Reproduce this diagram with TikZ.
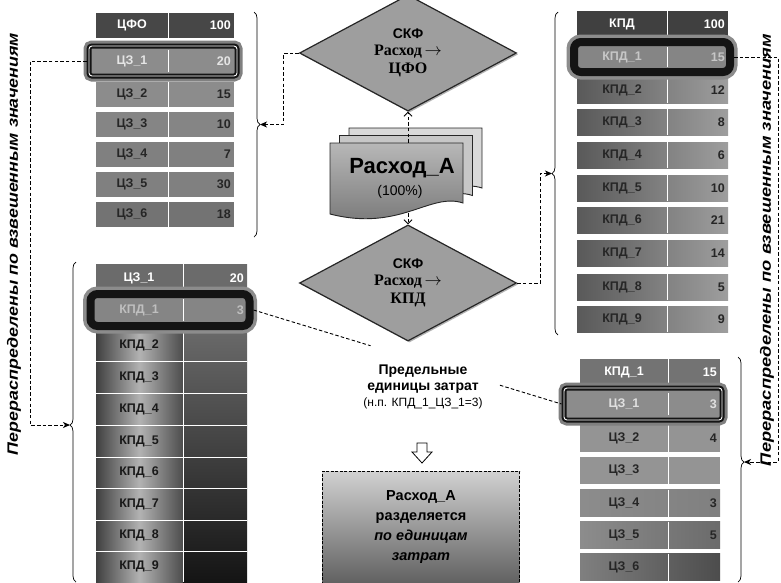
\documentclass[tikz,border=0pt]{standalone}
\usepackage{fontspec}
\setmainfont{Liberation Sans}
\newfontfamily\serifb{Liberation Serif}
\usetikzlibrary{shapes.geometric,arrows.meta,decorations.pathreplacing,calc,shadows}
\tikzset{
 rowtxt/.style={font=\bfseries\fontsize{12.5}{13}\selectfont, inner sep=0pt},
 dashline/.style={draw=black, line width=0.9pt, dash pattern=on 3.5pt off 2.2pt},
 bracedec/.style={draw=black, line width=0.7pt, decorate, decoration={brace, amplitude=6pt, aspect=#1}},
 bracedec/.default=0.5,
 intip/.style={-{Stealth[length=7pt,width=6pt,inset=2pt]}},
 vtip/.style={-{Straight Barb[length=4pt,width=8pt]}},
 diam/.style={diamond, minimum width=217pt, minimum height=98pt, inner sep=0pt, align=center, fill=black!38, draw=black!85, line width=1.2pt, drop shadow={shadow xshift=1.5pt, shadow yshift=-1.5pt, fill=black!60}},
 hlsharp/.style={rectangle, rounded corners=3pt, fill=black!45, draw=black!92, line width=5pt, preaction={draw=black!50, line width=11pt}, postaction={draw=white, line width=0.9pt}, inner sep=0pt},
 hlblur/.style={rectangle, rounded corners=7pt, fill=black!48, draw=black!92, line width=8pt, preaction={draw=black!45, line width=15pt}, inner sep=0pt},
 sidetxt/.style={rotate=90, font=\bfseries\itshape\fontsize{15}{15}\selectfont, inner sep=0pt},
 pagebox/.style={draw=black!85, line width=0.9pt},
 resbox/.style={draw=black, dash pattern=on 3pt off 1.5pt, line width=0.8pt, minimum width=197pt, minimum height=112pt, inner sep=0pt, align=center, font=\bfseries\fontsize{14.5}{20}\selectfont, top color=black!18, bottom color=black!62},
}
\newcommand\mytrow[9]{%
 \path[#8] (#2,#5-\rh) rectangle (#4,#5+\rh);
 \draw[white,line width=0.8pt] (#3,#5-\rh) -- (#3,#5+\rh);
 \node[rowtxt,text=#9] (#1l) at ({(#2+#3)/2},#5) {#6};
 \node[rowtxt,text=#9,anchor=east] (#1r) at ({#4-3},#5) {#7};
}
\newcommand\mypage[3]{%
 \path[pagebox,#3] (330+#1,143+#2) -- (463+#1,143+#2) -- (463+#1,203+#2) .. controls (430+#1,192+#2) and (400+#1,232+#2) .. (330+#1,214+#2) -- cycle;
}
\begin{document}
\begin{tikzpicture}[x=1pt,y=-1pt]
\useasboundingbox (0,0) rectangle (781,582);
\fill[white] (0,0) rectangle (781,582);

% ---------- top-left table
\def\rh{12.5}
\mytrow{tla}{96}{168}{234}{25}{ЦФО}{100}{fill=black!72}{white}
\mytrow{tlc}{96}{168}{234}{94}{ЦЗ\_2}{15}{fill=black!45}{black!85}
\mytrow{tld}{96}{168}{234}{124}{ЦЗ\_3}{10}{fill=black!48}{black!85}
\mytrow{tle}{96}{168}{234}{154}{ЦЗ\_4}{7}{fill=black!50}{black!85}
\mytrow{tlf}{96}{168}{234}{184}{ЦЗ\_5}{30}{fill=black!50}{black!85}
\mytrow{tlg}{96}{168}{234}{214}{ЦЗ\_6}{18}{fill=black!55}{black!85}
\node[hlsharp, minimum width=148pt, minimum height=30pt] (hlTL) at (163,61) {};
\draw[white,line width=0.8pt] (168,50) -- (168,72);
\node[rowtxt,text=black!10] (tlbl) at (132,61) {ЦЗ\_1};
\node[rowtxt,text=black!10,anchor=east] (tlbr) at (231,61) {20};

% ---------- top-right table
\def\rh{13}
\mytrow{tra}{577}{667}{728}{24}{КПД}{100}{fill=black!75}{white}
\mytrow{trc}{577}{667}{728}{90}{КПД\_2}{12}{left color=black!65,right color=black!38}{black!85}
\mytrow{trd}{577}{667}{728}{122}{КПД\_3}{8}{left color=black!65,right color=black!38}{black!85}
\mytrow{tre}{577}{667}{728}{155}{КПД\_4}{6}{left color=black!65,right color=black!38}{black!85}
\mytrow{trf}{577}{667}{728}{188}{КПД\_5}{10}{left color=black!65,right color=black!38}{black!85}
\mytrow{trg}{577}{667}{728}{220}{КПД\_6}{21}{left color=black!65,right color=black!38}{black!85}
\mytrow{trh}{577}{667}{728}{253}{КПД\_7}{14}{left color=black!65,right color=black!38}{black!85}
\mytrow{tri}{577}{667}{728}{287}{КПД\_8}{5}{left color=black!65,right color=black!38}{black!85}
\mytrow{trj}{577}{667}{728}{319}{КПД\_9}{9}{left color=black!65,right color=black!38}{black!85}
\node[hlblur, minimum width=156pt, minimum height=30pt] (hlTR) at (652,57) {};
\draw[white,line width=0.8pt] (667,47) -- (667,67);
\node[rowtxt,text=black!22] (trbl) at (622,57) {КПД\_1};
\node[rowtxt,text=black!22,anchor=east] (trbr) at (725,57) {15};

% ---------- bottom-left table
\shade[left color=black!75, right color=black!70, middle color=black!30] (96,264) rectangle (183,582);
\shade[top color=black!50, bottom color=black!92] (183,264) rectangle (247,582);
\fill[black!58] (96,264) rectangle (247,292);
\foreach \yy in {294,327,361,393,425,457,488,520,551} {\draw[white,line width=0.8pt] (96,\yy) -- (247,\yy);}
\draw[white,line width=0.8pt] (183,264) -- (183,582);
\node[rowtxt,text=white] (bla) at (139,278) {ЦЗ\_1};
\node[rowtxt,text=white,anchor=east] (blar) at (244,278) {20};
\node[hlblur, minimum width=159pt, minimum height=32pt] (hlBL) at (170,310) {};
\draw[white,line width=0.8pt] (183,299) -- (183,321);
\node[rowtxt,text=black!25] (blb) at (139,310) {КПД\_1};
\node[rowtxt,text=black!25,anchor=east] (blbr) at (244,310) {3};
\foreach \nm/\yy in {2/345,3/377,4/409,5/441,6/472,7/504,8/535,9/566} {\node[rowtxt,text=black!90] (blr\nm) at (139,\yy) {КПД\_\nm};}

% ---------- bottom-right table
\def\rh{13.5}
\mytrow{bra}{580}{668}{720}{372}{КПД\_1}{15}{fill=black!55}{white}
\mytrow{brc}{580}{668}{720}{438}{ЦЗ\_2}{4}{fill=black!42}{black!85}
\mytrow{brd}{580}{668}{720}{470}{ЦЗ\_3}{}{fill=black!42}{black!85}
\mytrow{bre}{580}{668}{720}{503}{ЦЗ\_4}{3}{left color=black!45,right color=black!50}{black!85}
\mytrow{brf}{580}{668}{720}{535}{ЦЗ\_5}{5}{left color=black!45,right color=black!58}{black!85}
\mytrow{brg}{580}{668}{720}{567}{ЦЗ\_6}{}{left color=black!50,right color=black!70}{black!85}
\node[hlsharp, minimum width=158pt, minimum height=32pt] (hlBR) at (643,404) {};
\draw[white,line width=0.8pt] (668,393) -- (668,415);
\node[rowtxt,text=black!12] (brbl) at (624,404) {ЦЗ\_1};
\node[rowtxt,text=black!12,anchor=east] (brbr) at (717,404) {3};

% ---------- braces
\draw[bracedec] (254,12) -- (254,237);
\coordinate (tltip) at (260,124.5);
\draw[bracedec] (558,335) -- (558,12);
\coordinate (trtip) at (552,173.5);
\draw[bracedec=0.49] (76,582) -- (76,262);
\coordinate (bltip) at (70,425);
\draw[bracedec=0.467] (738,357) -- (738,582);
\coordinate (brtip) at (744,462);

% ---------- diamonds and document
\node[diam] (d1) at (408,53) {{\bfseries\fontsize{14}{14}\selectfont СКФ}\\[5pt]{\serifb\bfseries\fontsize{16}{16}\selectfont Расход\,$\rightarrow$}\\[4pt]{\serifb\bfseries\fontsize{16}{16}\selectfont ЦФО}};
\node[diam] (d2) at (408,283) {{\bfseries\fontsize{14}{14}\selectfont СКФ}\\[5pt]{\serifb\bfseries\fontsize{16}{16}\selectfont Расход\,$\rightarrow$}\\[4pt]{\serifb\bfseries\fontsize{16}{16}\selectfont КПД}};

\mypage{19}{-15}{fill=black!15}
\mypage{9.5}{-7.5}{fill=black!22}
\mypage{0}{0}{top color=black!28,bottom color=black!55}
\node[minimum width=133pt, minimum height=70pt, inner sep=0pt] (doc) at (396.5,178) {};
\node[font=\bfseries\fontsize{22}{22}\selectfont, inner sep=0pt] (doct) at (402,168) {Расход\_А};
\node[font=\fontsize{14}{14}\selectfont, inner sep=0pt] (docp) at (400,192) {(100\%)};

\draw[dashline,vtip] (d1.south |- doc.north) -- (d1.south);
\draw[dashline,vtip] (d2.north |- doc.south) -- (d2.north);

% ---------- connectors to braces
\draw[dashline,intip] (d1.west) -- ++(-15,0) |- (tltip);
\draw[dashline,intip] (d2.east) -- ++(23,0) |- (trtip);
\coordinate (lbend) at (30,0);
\coordinate (rbend) at (778,0);
\draw[dashline,intip] (hlTL.west) -- (hlTL.west -| lbend) |- (bltip);
\draw[dashline,intip] (hlTR.east) -- (hlTR.east -| rbend) |- (brtip);

% ---------- side texts
\node[sidetxt] (ltxt) at (14,244) {\resizebox{422pt}{\height}{Перераспределены  по взвешенным значениям}};
\node[sidetxt] (rtxt) at (767,250) {\resizebox{432pt}{\height}{Перераспределены  по взвешенным значениям}};

% ---------- label and result
\node[align=center, font=\bfseries\fontsize{14}{16}\selectfont, inner sep=1pt] (lab) at (423,387) {Предельные\\единицы затрат\\{\mdseries\fontsize{12}{14}\selectfont (н.п. КПД\_1\_ЦЗ\_1=3)}};
\draw[dashline] (hlBL.east) -- ($(hlBL.east)!0.38!(hlBR.west)$);
\draw[dashline] ($(hlBL.east)!0.8!(hlBR.west)$) -- (hlBR.west);

\draw[fill=white, draw=black, line width=0.8pt] (417,443) -- (427,443) -- (427,452) -- (432,452) -- (422,463) -- (412,452) -- (417,452) -- cycle;

\node[resbox] (res) at (421,527) {Расход\_А\\разделяется\\\textit{по единицам}\\\textit{затрат}};
\end{tikzpicture}
\end{document}
